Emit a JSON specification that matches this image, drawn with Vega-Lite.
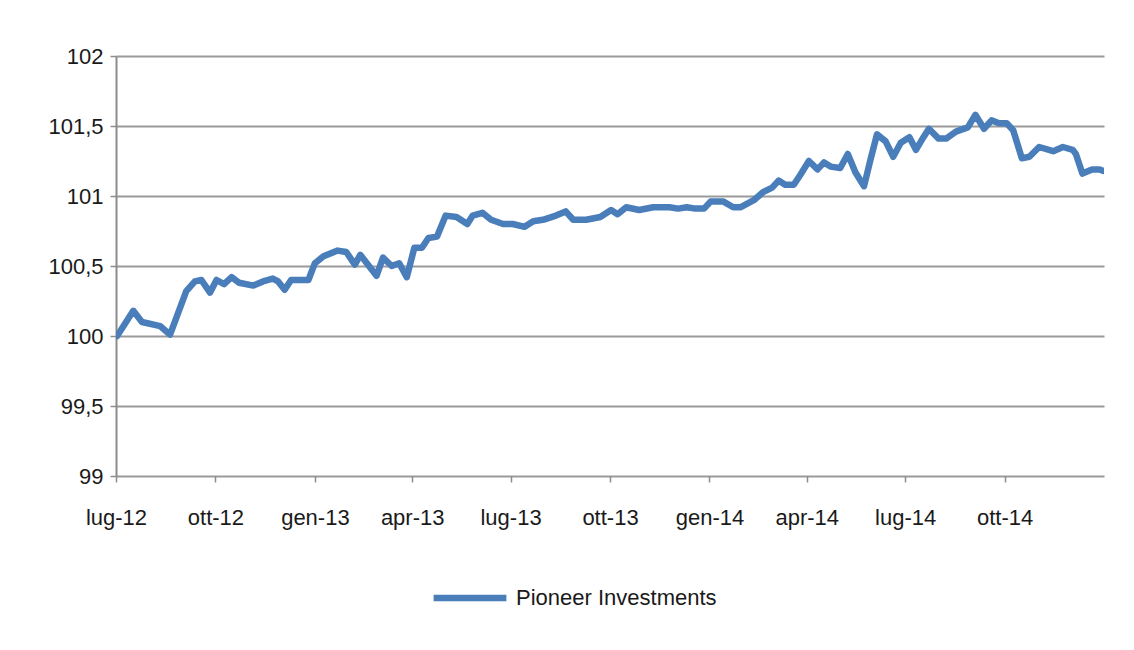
{
  "$schema": "https://vega.github.io/schema/vega-lite/v6.json",
  "autosize": {"type": "none"},
  "width": 988,
  "height": 420,
  "padding": {"left": 116, "top": 56, "right": 30, "bottom": 174},
  "background": "white",
  "config": {
    "view": {"stroke": null},
    "font": "Liberation Sans"
  },
  "data": {
    "values": [
      {"date": "2012-07-02", "value": 100.0, "series": "Pioneer Investments"},
      {"date": "2012-07-17", "value": 100.18, "series": "Pioneer Investments"},
      {"date": "2012-07-25", "value": 100.1, "series": "Pioneer Investments"},
      {"date": "2012-08-11", "value": 100.07, "series": "Pioneer Investments"},
      {"date": "2012-08-20", "value": 100.01, "series": "Pioneer Investments"},
      {"date": "2012-09-04", "value": 100.32, "series": "Pioneer Investments"},
      {"date": "2012-09-12", "value": 100.39, "series": "Pioneer Investments"},
      {"date": "2012-09-18", "value": 100.4, "series": "Pioneer Investments"},
      {"date": "2012-09-26", "value": 100.31, "series": "Pioneer Investments"},
      {"date": "2012-10-02", "value": 100.4, "series": "Pioneer Investments"},
      {"date": "2012-10-09", "value": 100.37, "series": "Pioneer Investments"},
      {"date": "2012-10-16", "value": 100.42, "series": "Pioneer Investments"},
      {"date": "2012-10-23", "value": 100.38, "series": "Pioneer Investments"},
      {"date": "2012-11-05", "value": 100.36, "series": "Pioneer Investments"},
      {"date": "2012-11-14", "value": 100.39, "series": "Pioneer Investments"},
      {"date": "2012-11-23", "value": 100.41, "series": "Pioneer Investments"},
      {"date": "2012-11-28", "value": 100.39, "series": "Pioneer Investments"},
      {"date": "2012-12-04", "value": 100.33, "series": "Pioneer Investments"},
      {"date": "2012-12-10", "value": 100.4, "series": "Pioneer Investments"},
      {"date": "2012-12-26", "value": 100.4, "series": "Pioneer Investments"},
      {"date": "2013-01-01", "value": 100.52, "series": "Pioneer Investments"},
      {"date": "2013-01-09", "value": 100.57, "series": "Pioneer Investments"},
      {"date": "2013-01-22", "value": 100.61, "series": "Pioneer Investments"},
      {"date": "2013-01-30", "value": 100.6, "series": "Pioneer Investments"},
      {"date": "2013-02-07", "value": 100.51, "series": "Pioneer Investments"},
      {"date": "2013-02-12", "value": 100.58, "series": "Pioneer Investments"},
      {"date": "2013-02-27", "value": 100.43, "series": "Pioneer Investments"},
      {"date": "2013-03-05", "value": 100.56, "series": "Pioneer Investments"},
      {"date": "2013-03-13", "value": 100.5, "series": "Pioneer Investments"},
      {"date": "2013-03-20", "value": 100.52, "series": "Pioneer Investments"},
      {"date": "2013-03-27", "value": 100.42, "series": "Pioneer Investments"},
      {"date": "2013-04-03", "value": 100.63, "series": "Pioneer Investments"},
      {"date": "2013-04-10", "value": 100.63, "series": "Pioneer Investments"},
      {"date": "2013-04-16", "value": 100.7, "series": "Pioneer Investments"},
      {"date": "2013-04-24", "value": 100.71, "series": "Pioneer Investments"},
      {"date": "2013-05-02", "value": 100.86, "series": "Pioneer Investments"},
      {"date": "2013-05-12", "value": 100.85, "series": "Pioneer Investments"},
      {"date": "2013-05-22", "value": 100.8, "series": "Pioneer Investments"},
      {"date": "2013-05-27", "value": 100.86, "series": "Pioneer Investments"},
      {"date": "2013-06-05", "value": 100.88, "series": "Pioneer Investments"},
      {"date": "2013-06-13", "value": 100.83, "series": "Pioneer Investments"},
      {"date": "2013-06-24", "value": 100.8, "series": "Pioneer Investments"},
      {"date": "2013-07-03", "value": 100.8, "series": "Pioneer Investments"},
      {"date": "2013-07-14", "value": 100.78, "series": "Pioneer Investments"},
      {"date": "2013-07-22", "value": 100.82, "series": "Pioneer Investments"},
      {"date": "2013-07-31", "value": 100.83, "series": "Pioneer Investments"},
      {"date": "2013-08-12", "value": 100.86, "series": "Pioneer Investments"},
      {"date": "2013-08-21", "value": 100.89, "series": "Pioneer Investments"},
      {"date": "2013-08-28", "value": 100.83, "series": "Pioneer Investments"},
      {"date": "2013-09-09", "value": 100.83, "series": "Pioneer Investments"},
      {"date": "2013-09-22", "value": 100.85, "series": "Pioneer Investments"},
      {"date": "2013-10-02", "value": 100.9, "series": "Pioneer Investments"},
      {"date": "2013-10-08", "value": 100.87, "series": "Pioneer Investments"},
      {"date": "2013-10-16", "value": 100.92, "series": "Pioneer Investments"},
      {"date": "2013-10-28", "value": 100.9, "series": "Pioneer Investments"},
      {"date": "2013-11-10", "value": 100.92, "series": "Pioneer Investments"},
      {"date": "2013-11-25", "value": 100.92, "series": "Pioneer Investments"},
      {"date": "2013-12-03", "value": 100.91, "series": "Pioneer Investments"},
      {"date": "2013-12-11", "value": 100.92, "series": "Pioneer Investments"},
      {"date": "2013-12-19", "value": 100.91, "series": "Pioneer Investments"},
      {"date": "2013-12-27", "value": 100.91, "series": "Pioneer Investments"},
      {"date": "2014-01-02", "value": 100.96, "series": "Pioneer Investments"},
      {"date": "2014-01-14", "value": 100.96, "series": "Pioneer Investments"},
      {"date": "2014-01-23", "value": 100.92, "series": "Pioneer Investments"},
      {"date": "2014-01-30", "value": 100.92, "series": "Pioneer Investments"},
      {"date": "2014-02-11", "value": 100.97, "series": "Pioneer Investments"},
      {"date": "2014-02-20", "value": 101.03, "series": "Pioneer Investments"},
      {"date": "2014-02-28", "value": 101.06, "series": "Pioneer Investments"},
      {"date": "2014-03-06", "value": 101.11, "series": "Pioneer Investments"},
      {"date": "2014-03-12", "value": 101.08, "series": "Pioneer Investments"},
      {"date": "2014-03-20", "value": 101.08, "series": "Pioneer Investments"},
      {"date": "2014-03-26", "value": 101.15, "series": "Pioneer Investments"},
      {"date": "2014-04-03", "value": 101.25, "series": "Pioneer Investments"},
      {"date": "2014-04-11", "value": 101.19, "series": "Pioneer Investments"},
      {"date": "2014-04-17", "value": 101.24, "series": "Pioneer Investments"},
      {"date": "2014-04-23", "value": 101.21, "series": "Pioneer Investments"},
      {"date": "2014-05-02", "value": 101.2, "series": "Pioneer Investments"},
      {"date": "2014-05-09", "value": 101.3, "series": "Pioneer Investments"},
      {"date": "2014-05-16", "value": 101.17, "series": "Pioneer Investments"},
      {"date": "2014-05-24", "value": 101.07, "series": "Pioneer Investments"},
      {"date": "2014-05-30", "value": 101.26, "series": "Pioneer Investments"},
      {"date": "2014-06-05", "value": 101.44, "series": "Pioneer Investments"},
      {"date": "2014-06-13", "value": 101.39, "series": "Pioneer Investments"},
      {"date": "2014-06-20", "value": 101.28, "series": "Pioneer Investments"},
      {"date": "2014-06-27", "value": 101.38, "series": "Pioneer Investments"},
      {"date": "2014-07-05", "value": 101.42, "series": "Pioneer Investments"},
      {"date": "2014-07-11", "value": 101.33, "series": "Pioneer Investments"},
      {"date": "2014-07-18", "value": 101.42, "series": "Pioneer Investments"},
      {"date": "2014-07-23", "value": 101.48, "series": "Pioneer Investments"},
      {"date": "2014-08-01", "value": 101.41, "series": "Pioneer Investments"},
      {"date": "2014-08-08", "value": 101.41, "series": "Pioneer Investments"},
      {"date": "2014-08-17", "value": 101.46, "series": "Pioneer Investments"},
      {"date": "2014-08-28", "value": 101.49, "series": "Pioneer Investments"},
      {"date": "2014-09-04", "value": 101.58, "series": "Pioneer Investments"},
      {"date": "2014-09-12", "value": 101.48, "series": "Pioneer Investments"},
      {"date": "2014-09-19", "value": 101.54, "series": "Pioneer Investments"},
      {"date": "2014-09-26", "value": 101.52, "series": "Pioneer Investments"},
      {"date": "2014-10-03", "value": 101.52, "series": "Pioneer Investments"},
      {"date": "2014-10-09", "value": 101.47, "series": "Pioneer Investments"},
      {"date": "2014-10-17", "value": 101.27, "series": "Pioneer Investments"},
      {"date": "2014-10-24", "value": 101.28, "series": "Pioneer Investments"},
      {"date": "2014-11-02", "value": 101.35, "series": "Pioneer Investments"},
      {"date": "2014-11-15", "value": 101.32, "series": "Pioneer Investments"},
      {"date": "2014-11-24", "value": 101.35, "series": "Pioneer Investments"},
      {"date": "2014-12-03", "value": 101.33, "series": "Pioneer Investments"},
      {"date": "2014-12-06", "value": 101.3, "series": "Pioneer Investments"},
      {"date": "2014-12-12", "value": 101.16, "series": "Pioneer Investments"},
      {"date": "2014-12-21", "value": 101.19, "series": "Pioneer Investments"},
      {"date": "2014-12-28", "value": 101.19, "series": "Pioneer Investments"},
      {"date": "2014-12-31", "value": 101.18, "series": "Pioneer Investments"}
    ]
  },
  "mark": {"type": "line", "strokeWidth": 6.5, "strokeJoin": "round", "strokeCap": "round", "clip": true},
  "encoding": {
    "x": {
      "field": "date",
      "type": "temporal",
      "title": null,
      "scale": {
        "type": "utc",
        "domain": [
          {"year": 2012, "month": 7, "date": 1, "utc": true},
          {"year": 2015, "month": 1, "date": 1, "utc": true}
        ],
        "nice": false
      },
      "axis": {
        "values": [
          {"year": 2012, "month": 7, "date": 1, "utc": true},
          {"year": 2012, "month": 10, "date": 1, "utc": true},
          {"year": 2013, "month": 1, "date": 1, "utc": true},
          {"year": 2013, "month": 4, "date": 1, "utc": true},
          {"year": 2013, "month": 7, "date": 1, "utc": true},
          {"year": 2013, "month": 10, "date": 1, "utc": true},
          {"year": 2014, "month": 1, "date": 1, "utc": true},
          {"year": 2014, "month": 4, "date": 1, "utc": true},
          {"year": 2014, "month": 7, "date": 1, "utc": true},
          {"year": 2014, "month": 10, "date": 1, "utc": true}
        ],
        "labelExpr": "['gen','feb','mar','apr','mag','giu','lug','ago','set','ott','nov','dic'][utcmonth(datum.value)] + '-' + utcFormat(datum.value, '%y')",
        "grid": false,
        "domain": false,
        "ticks": true,
        "tickSize": 6,
        "tickColor": "#8c8c8c",
        "tickWidth": 1.5,
        "labelFontSize": 22,
        "labelColor": "#1a1a1a",
        "labelPadding": 25,
        "labelFlush": false,
        "labelOverlap": false
      }
    },
    "y": {
      "field": "value",
      "type": "quantitative",
      "title": null,
      "scale": {"domain": [99, 102], "nice": false, "zero": false},
      "axis": {
        "values": [99, 99.5, 100, 100.5, 101, 101.5, 102],
        "labelExpr": "replace(format(datum.value, ''), '.', ',')",
        "grid": true,
        "gridColor": "#9a9a9a",
        "gridWidth": 2,
        "domain": true,
        "domainColor": "#8c8c8c",
        "domainWidth": 2,
        "ticks": true,
        "tickSize": 6,
        "tickColor": "#8c8c8c",
        "tickWidth": 1.5,
        "labelFontSize": 22,
        "labelColor": "#1a1a1a",
        "labelPadding": 7
      }
    },
    "color": {
      "field": "series",
      "type": "nominal",
      "scale": {"range": ["#4a7ebb"]},
      "legend": {
        "title": null,
        "orient": "none",
        "legendX": 314,
        "legendY": 502,
        "symbolType": "stroke",
        "symbolSize": 5300,
        "symbolStrokeWidth": 6.5,
        "labelFontSize": 22,
        "labelColor": "#1a1a1a",
        "labelOffset": 6,
        "labelLimit": 400
      }
    }
  }
}
